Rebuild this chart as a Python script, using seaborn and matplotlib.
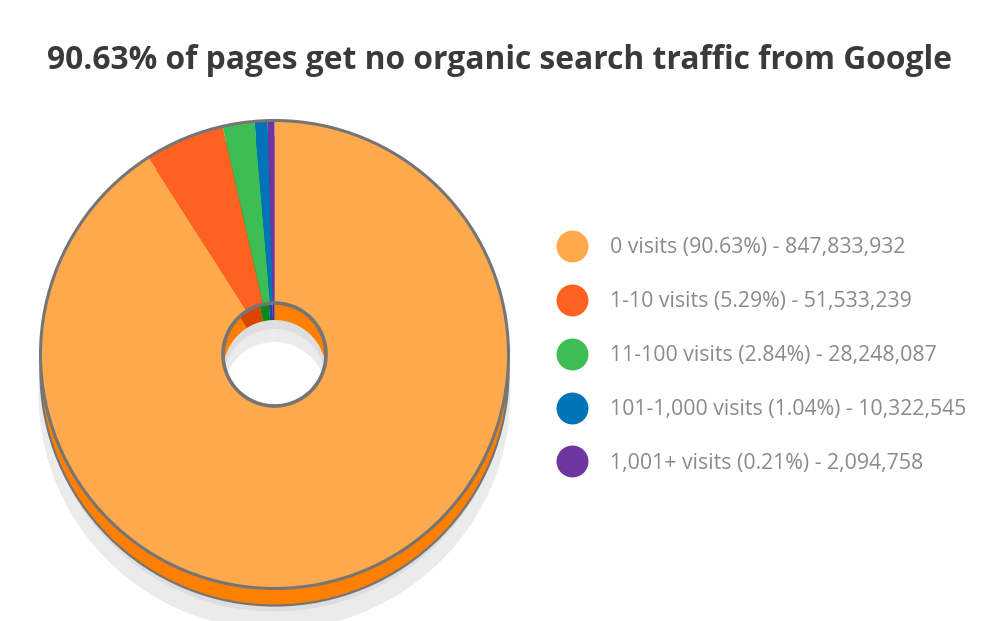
import matplotlib
matplotlib.use("Agg")
import matplotlib.pyplot as plt
import seaborn as sns
from matplotlib.lines import Line2D
from matplotlib.patches import Circle

sns.set_theme(style="white")

title = "90.63% of pages get no organic search traffic from Google"
labels = ["0 visits (90.63%) - 847,833,932", "1-10 visits (5.29%) - 51,533,239",
          "11-100 visits (2.84%) - 28,248,087", "101-1,000 visits (1.04%) - 10,322,545",
          "1,001+ visits (0.21%) - 2,094,758"]
# Slice shares as drawn in the picture (read from the slice boundaries)
shares = [90.94, 5.50, 2.20, 0.89, 0.47]
top_colors = ["#FFA94D", "#FF6122", "#3DBE55", "#0074B8", "#6F35A0"]
side_colors = ["#FF7F00", "#DD4400", "#0A8A12", "#1A4A9C", "#55208A"]

W, H = 1003, 621
fig = plt.figure(figsize=(W / 100, H / 100), dpi=100, facecolor="white")
ax = fig.add_axes([0, 0, 1, 1])

CX, CY, R, HOLE = 274.5, H - 354.5, 234, 51.5
EDGE = "#757575"

def ring(y, colors, z, radius=R):
    wedges, _ = ax.pie(shares, colors=colors, radius=radius, center=(CX, y),
                       startangle=90, counterclock=False, frame=False,
                       wedgeprops=dict(width=radius - HOLE, linewidth=0, antialiased=True))
    for w in wedges:
        w.set_zorder(z)

ring(CY - 39, ["#EBEBEB"] * 5, 1, radius=236)
ring(CY - 26, ["#DEDEDE"] * 5, 2, radius=231)
ring(CY - 17, side_colors, 3)
ax.add_patch(Circle((CX, CY - 17), R, fill=False, ec=EDGE, lw=1.6, zorder=4))
ring(CY, top_colors, 5)
ax.add_patch(Circle((CX, CY), R, fill=False, ec=EDGE, lw=2.2, zorder=6))
ax.add_patch(Circle((CX, CY), HOLE, fill=False, ec=EDGE, lw=2.6, zorder=6))

ax.set_xlim(0, W)
ax.set_ylim(0, H)
ax.set_aspect("equal")
ax.axis("off")

ax.text(500, H - 60, title, ha="center", va="center", fontsize=22.9,
        fontweight="bold", color="#3A3A3A", family="Open Sans", zorder=10)

handles = [Line2D([], [], ls="", marker="o", ms=23, mfc=c, mec="none") for c in top_colors]
leg = ax.legend(handles, labels, loc="center left", bbox_to_anchor=(555.5 / W, (H - 355.5) / H),
                bbox_transform=fig.transFigure, frameon=False,
                labelcolor="#8A8A8A", labelspacing=1.55, handletextpad=1.0,
                borderpad=0, borderaxespad=0, handlelength=1.57,
                prop=dict(family="Open Sans", size=15.3))
leg.set_zorder(10)

fig.savefig("out.png", dpi=100, facecolor="white")
